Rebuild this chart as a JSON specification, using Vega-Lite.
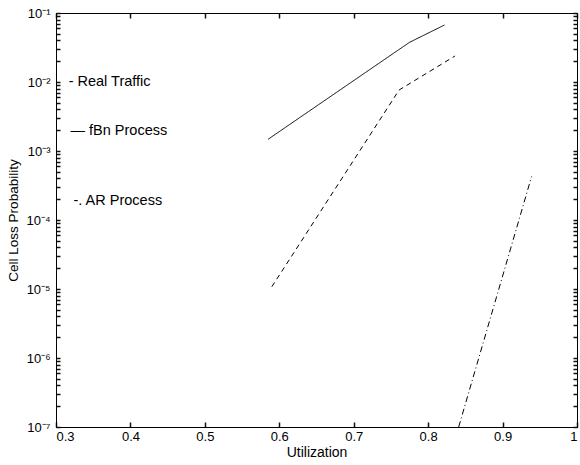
{
  "$schema": "https://vega.github.io/schema/vega-lite/v6.json",
  "width": 521,
  "height": 414,
  "autosize": {"type": "none"},
  "padding": {"left": 56, "top": 13, "right": 3, "bottom": 38},
  "background": "white",
  "config": {
    "font": "Liberation Sans",
    "view": {"stroke": "black", "strokeWidth": 1},
    "axis": {
      "grid": false,
      "domainColor": "black",
      "labelColor": "black",
      "titleColor": "black",
      "labelFontSize": 13,
      "titleFontSize": 13.5,
      "titleFontWeight": "normal"
    }
  },
  "datasets": {
    "lines": [
      {"series": "Real Traffic", "u": 0.585, "p": 0.00148},
      {"series": "Real Traffic", "u": 0.775, "p": 0.0376},
      {"series": "Real Traffic", "u": 0.822, "p": 0.067},
      {"series": "fBn Process", "u": 0.59, "p": 0.0000108},
      {"series": "fBn Process", "u": 0.761, "p": 0.00766},
      {"series": "fBn Process", "u": 0.836, "p": 0.0238},
      {"series": "AR Process", "u": 0.841, "p": 0.0000001},
      {"series": "AR Process", "u": 0.939, "p": 0.000427}
    ],
    "labels": [
      {"label": "- Real Traffic", "u": 0.317, "p": 0.01},
      {"label": "— fBn Process", "u": 0.3195, "p": 0.00195},
      {"label": "-. AR Process", "u": 0.3235, "p": 0.00019}
    ]
  },
  "layer": [
    {
      "data": {"name": "lines"},
      "mark": {"type": "line", "clip": true, "color": "black", "strokeWidth": 1},
      "encoding": {
        "x": {
          "field": "u", "type": "quantitative",
          "scale": {"domain": [0.3, 1], "nice": false, "zero": false},
          "axis": {"orient": "bottom", "values": [0.3, 0.4, 0.5, 0.6, 0.7, 0.8, 0.9, 1], "format": "~g", "title": "Utilization", "titleFontSize": 14, "titlePadding": 2, "tickSize": -5, "tickColor": "#111111", "tickWidth": 1.5, "labelPadding": 8}
        },
        "y": {
          "field": "p", "type": "quantitative",
          "scale": {"type": "log", "domain": [0.0000001, 0.1], "nice": false},
          "axis": {
            "orient": "left",
            "title": "Cell Loss Probability",
            "titlePadding": 5,
            "values": [1e-7,2e-7,3e-7,4e-7,5e-7,6e-7,7e-7,8e-7,9e-7,1e-6,2e-6,3e-6,4e-6,5e-6,6e-6,7e-6,8e-6,9e-6,1e-5,2e-5,3e-5,4e-5,5e-5,6e-5,7e-5,8e-5,9e-5,1e-4,2e-4,3e-4,4e-4,5e-4,6e-4,7e-4,8e-4,9e-4,1e-3,2e-3,3e-3,4e-3,5e-3,6e-3,7e-3,8e-3,9e-3,1e-2,2e-2,3e-2,4e-2,5e-2,6e-2,7e-2,8e-2,9e-2,1e-1],
            "labelExpr": "abs(log(datum.value)/LN10 - round(log(datum.value)/LN10)) < 0.001 ? '10' + ['⁰','⁻¹','⁻²','⁻³','⁻⁴','⁻⁵','⁻⁶','⁻⁷'][-round(log(datum.value)/LN10)] : ''",
            "labelOverlap": false,
            "tickSize": -4,
            "tickColor": "#111111",
            "tickWidth": 1.5,
            "labelPadding": 10
          }
        },
        "strokeDash": {
          "field": "series", "type": "nominal",
          "scale": {"domain": ["Real Traffic", "fBn Process", "AR Process"], "range": [[1, 0], [5, 4], [6, 3, 1, 3]]},
          "legend": null
        }
      }
    },
    {
      "data": {"name": "labels"},
      "mark": {"type": "text", "align": "left", "baseline": "middle", "fontSize": 14.5, "color": "black"},
      "encoding": {
        "x": {
          "field": "u", "type": "quantitative",
          "axis": {"orient": "top", "values": [0.3, 0.4, 0.5, 0.6, 0.7, 0.8, 0.9, 1], "labels": false, "title": null, "tickSize": -5, "tickColor": "#111111", "tickWidth": 1.5}
        },
        "y": {
          "field": "p", "type": "quantitative",
          "axis": {
            "orient": "right", "labels": false, "title": null, "tickSize": -4, "tickColor": "#111111", "tickWidth": 1.5,
            "values": [1e-7,2e-7,3e-7,4e-7,5e-7,6e-7,7e-7,8e-7,9e-7,1e-6,2e-6,3e-6,4e-6,5e-6,6e-6,7e-6,8e-6,9e-6,1e-5,2e-5,3e-5,4e-5,5e-5,6e-5,7e-5,8e-5,9e-5,1e-4,2e-4,3e-4,4e-4,5e-4,6e-4,7e-4,8e-4,9e-4,1e-3,2e-3,3e-3,4e-3,5e-3,6e-3,7e-3,8e-3,9e-3,1e-2,2e-2,3e-2,4e-2,5e-2,6e-2,7e-2,8e-2,9e-2,1e-1]
          }
        },
        "text": {"field": "label", "type": "nominal"}
      }
    }
  ],
  "resolve": {"axis": {"x": "independent", "y": "independent"}}
}
